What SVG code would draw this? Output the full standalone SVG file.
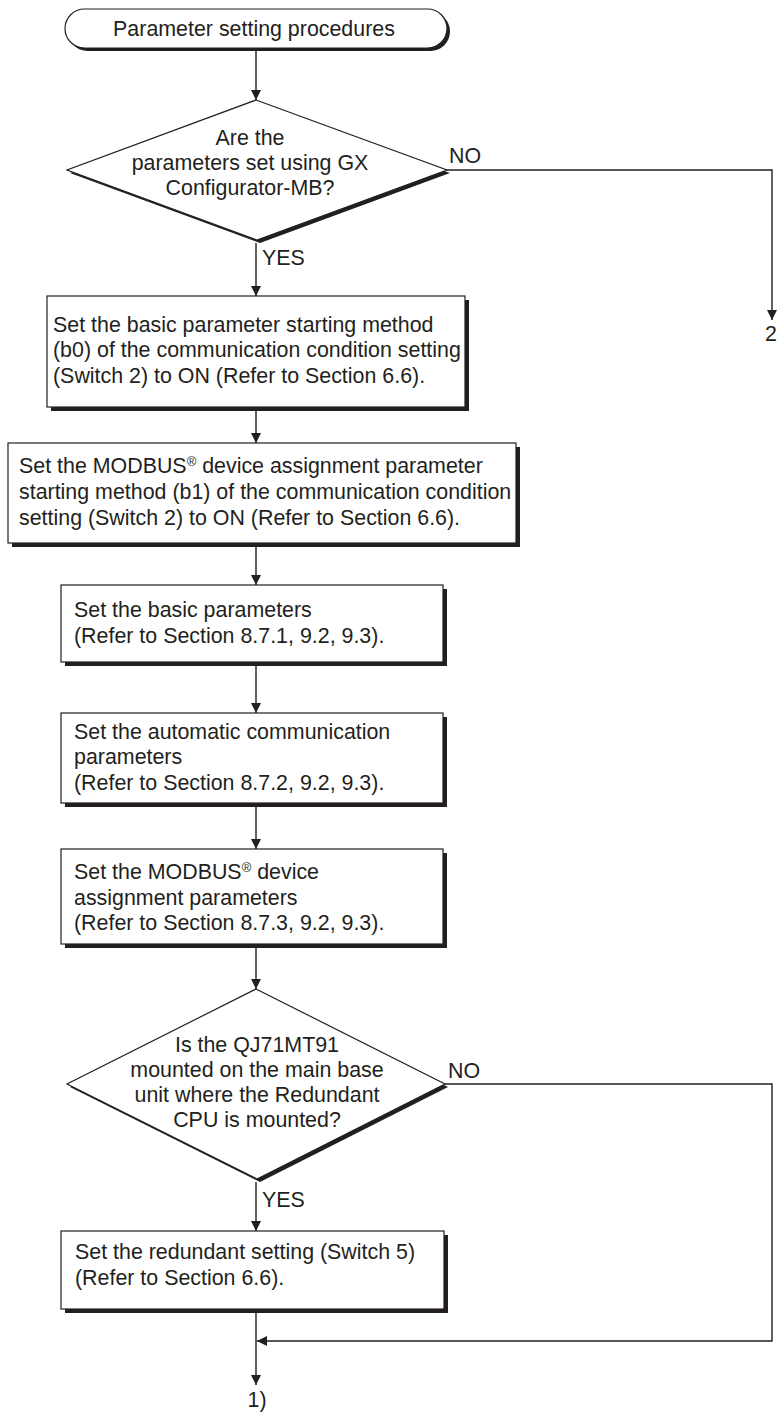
<svg xmlns="http://www.w3.org/2000/svg" width="779" height="1412" viewBox="0 0 779 1412">
<defs>
<style>
text{font-family:"Liberation Sans",Arial,sans-serif;font-size:21.4px;fill:#231f20}
.c{text-anchor:middle}
.box{fill:#fff;stroke:#231f20;stroke-width:1.2}
.sh{fill:#231f20}
.ln{fill:none;stroke:#231f20;stroke-width:1.4}
.sup{font-size:13px}
</style>
<marker id="ah" viewBox="0 0 10 10" refX="10" refY="5" markerWidth="10" markerHeight="10" markerUnits="userSpaceOnUse" orient="auto">
<path d="M0,0 L10,5 L0,10 Z" fill="#231f20"/>
</marker>
</defs>
<rect width="779" height="1412" fill="#fff"/>

<g id="start">
<rect class="sh" x="68" y="12" width="382" height="39" rx="19.5"/>
<rect class="box" x="65" y="9" width="382" height="39" rx="19.5"/>
<text class="c" x="254" y="36">Parameter setting procedures</text>
</g>

<g id="decision1">
<polygon class="sh" points="259,103 450,173 260,243 70,173"/>
<polygon class="box" points="256,100 447,170 257,240 67,170"/>
<text class="c" x="250" y="145">Are the</text>
<text class="c" x="250" y="170">parameters set using GX</text>
<text class="c" x="250" y="195">Configurator-MB?</text>
</g>

<g id="box1">
<rect class="sh" x="51" y="300" width="418" height="111"/>
<rect class="box" x="47" y="296" width="418" height="111"/>
<text x="53" y="332">Set the basic parameter starting method</text>
<text x="53" y="357">(b0) of the communication condition setting</text>
<text x="53" y="383">(Switch 2) to ON (Refer to Section 6.6).</text>
</g>

<g id="box2">
<rect class="sh" x="12" y="447" width="508" height="100"/>
<rect class="box" x="8" y="443" width="508" height="100"/>
<text x="19" y="473">Set the MODBUS<tspan class="sup" dy="-7">®</tspan><tspan dy="7"> device assignment parameter</tspan></text>
<text x="19" y="499">starting method (b1) of the communication condition</text>
<text x="19" y="525">setting (Switch 2) to ON (Refer to Section 6.6).</text>
</g>

<g id="box3">
<rect class="sh" x="65" y="589" width="382" height="77"/>
<rect class="box" x="61" y="585" width="382" height="77"/>
<text x="74" y="617">Set the basic parameters</text>
<text x="74" y="643">(Refer to Section 8.7.1, 9.2, 9.3).</text>
</g>

<g id="box4">
<rect class="sh" x="65" y="717" width="382" height="90"/>
<rect class="box" x="61" y="713" width="382" height="90"/>
<text x="74" y="739">Set the automatic communication</text>
<text x="74" y="764">parameters</text>
<text x="74" y="790">(Refer to Section 8.7.2, 9.2, 9.3).</text>
</g>

<g id="box5">
<rect class="sh" x="65" y="853" width="382" height="95"/>
<rect class="box" x="61" y="849" width="382" height="95"/>
<text x="74" y="879">Set the MODBUS<tspan class="sup" dy="-7">®</tspan><tspan dy="7"> device</tspan></text>
<text x="74" y="905">assignment parameters</text>
<text x="74" y="930">(Refer to Section 8.7.3, 9.2, 9.3).</text>
</g>

<g id="decision2">
<polygon class="sh" points="259,992 448,1087 260,1182 70,1087"/>
<polygon class="box" points="256,989 445,1084 257,1179 67,1084"/>
<text class="c" x="257" y="1052">Is the QJ71MT91</text>
<text class="c" x="257" y="1077">mounted on the main base</text>
<text class="c" x="257" y="1102">unit where the Redundant</text>
<text class="c" x="257" y="1127">CPU is mounted?</text>
</g>

<g id="box6">
<rect class="sh" x="65" y="1235" width="383" height="78"/>
<rect class="box" x="61" y="1231" width="383" height="78"/>
<text x="75" y="1259">Set the redundant setting (Switch 5)</text>
<text x="75" y="1285">(Refer to Section 6.6).</text>
</g>

<g id="connectors">
<line class="ln" x1="256" y1="51" x2="256" y2="100" marker-end="url(#ah)"/>
<line class="ln" x1="256" y1="243" x2="256" y2="296" marker-end="url(#ah)"/>
<polyline class="ln" points="447,170 772,170 772,320" marker-end="url(#ah)"/>
<line class="ln" x1="256" y1="411" x2="256" y2="443" marker-end="url(#ah)"/>
<line class="ln" x1="256" y1="547" x2="256" y2="585" marker-end="url(#ah)"/>
<line class="ln" x1="256" y1="666" x2="256" y2="713" marker-end="url(#ah)"/>
<line class="ln" x1="256" y1="807" x2="256" y2="849" marker-end="url(#ah)"/>
<line class="ln" x1="256" y1="948" x2="256" y2="989" marker-end="url(#ah)"/>
<line class="ln" x1="256" y1="1182" x2="256" y2="1231" marker-end="url(#ah)"/>
<polyline class="ln" points="445,1084 772,1084 772,1341 257,1341" marker-end="url(#ah)"/>
<line class="ln" x1="256" y1="1313" x2="256" y2="1385" marker-end="url(#ah)"/>
<text x="449" y="163">NO</text>
<text x="262" y="265">YES</text>
<text class="c" x="771" y="341">2</text>
<text x="448" y="1078">NO</text>
<text x="262" y="1207">YES</text>
<text class="c" x="257" y="1407">1)</text>
</g>
</svg>
